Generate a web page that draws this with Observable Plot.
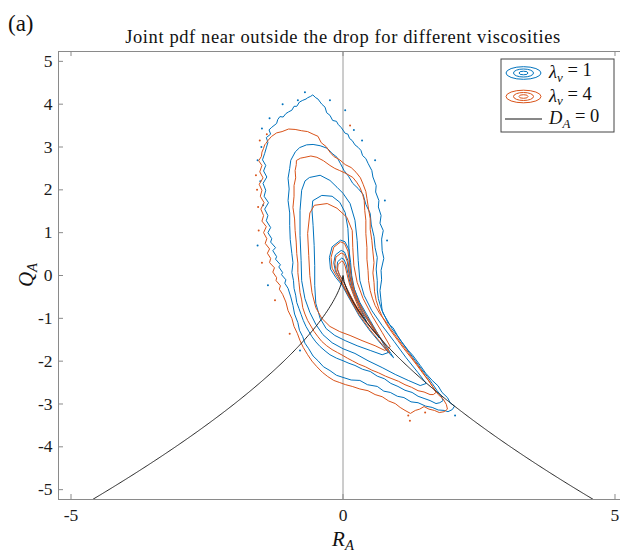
<!DOCTYPE html>
<html><head><meta charset="utf-8">
<script src="https://cdn.jsdelivr.net/npm/d3@7"></script>
<script src="https://cdn.jsdelivr.net/npm/@observablehq/plot@0.6"></script>
<style>
body{margin:0;background:#fff;overflow:hidden}
#fig{position:relative;width:620px;height:552px;overflow:hidden;background:#fff}
#fig svg{position:absolute;left:0;top:0;max-width:none!important}
</style></head><body><div id="fig"></div>
<script>
// Joint pdf of (R_A, Q_A) near the outside of the drop: contour levels per viscosity ratio.
const xTicks = [-5, 0, 5];
const yTicks = [-5, -4, -3, -2, -1, 0, 1, 2, 3, 4, 5];

// λν = 1 contours, [R_A, Q_A], outermost to innermost
const nu1Level1 = [[-0.55,4.21],[-0.50,4.15],[-0.46,4.12],[-0.42,4.05],[-0.39,4.00],[-0.33,3.93],[-0.30,3.80],[-0.24,3.74],[-0.19,3.62],[-0.12,3.60],[-0.09,3.53],[-0.03,3.45],[0.04,3.32],[0.09,3.30],[0.12,3.20],[0.17,3.15],[0.22,3.05],[0.28,2.99],[0.33,2.92],[0.36,2.80],[0.42,2.73],[0.46,2.62],[0.53,2.45],[0.55,2.30],[0.61,2.10],[0.60,1.95],[0.66,1.75],[0.65,1.60],[0.70,1.40],[0.68,1.22],[0.74,1.05],[0.71,0.85],[0.72,0.58],[0.75,0.40],[0.70,0.12],[0.71,-0.10],[0.68,-0.35],[0.70,-0.60],[0.72,-0.82],[0.78,-0.98],[0.83,-1.12],[0.92,-1.22],[1.00,-1.40],[1.08,-1.55],[1.20,-1.75],[1.28,-1.86],[1.42,-2.10],[1.52,-2.28],[1.64,-2.45],[1.75,-2.58],[1.82,-2.73],[1.92,-2.85],[1.97,-2.97],[2.05,-3.05],[2.01,-3.13],[1.93,-3.18],[1.86,-3.15],[1.75,-3.14],[1.64,-3.08],[1.52,-3.05],[1.38,-2.97],[1.25,-2.95],[1.12,-2.85],[1.00,-2.82],[0.87,-2.73],[0.75,-2.70],[0.63,-2.59],[0.45,-2.55],[0.31,-2.45],[0.15,-2.44],[0,-2.38],[-0.12,-2.33],[-0.24,-2.22],[-0.36,-2.13],[-0.46,-1.99],[-0.55,-1.88],[-0.63,-1.71],[-0.70,-1.58],[-0.74,-1.43],[-0.80,-1.28],[-0.83,-1.10],[-0.89,-0.90],[-0.92,-0.70],[-0.96,-0.50],[-1.01,-0.30],[-1.07,-0.18],[-1.05,-0.10],[-1.13,0.02],[-1.11,0.07],[-1.18,0.20],[-1.15,0.25],[-1.24,0.38],[-1.22,0.44],[-1.29,0.58],[-1.24,0.65],[-1.33,0.78],[-1.31,0.86],[-1.38,1.00],[-1.33,1.12],[-1.41,1.28],[-1.38,1.40],[-1.44,1.55],[-1.37,1.70],[-1.45,1.85],[-1.42,1.99],[-1.47,2.15],[-1.40,2.30],[-1.46,2.44],[-1.42,2.57],[-1.48,2.70],[-1.44,2.85],[-1.41,2.98],[-1.38,3.11],[-1.41,3.22],[-1.33,3.30],[-1.36,3.40],[-1.31,3.46],[-1.22,3.55],[-1.20,3.64],[-1.16,3.71],[-1.10,3.70],[-1.05,3.78],[-1.00,3.82],[-0.94,3.86],[-0.90,3.95],[-0.85,3.95],[-0.80,4.05],[-0.74,4.09],[-0.68,4.12],[-0.65,4.15],[-0.60,4.18]];
const nu1Level2 = [[-0.79,2.99],[-0.67,3.05],[-0.55,3.06],[-0.42,3.03],[-0.29,2.97],[-0.20,2.85],[-0.11,2.76],[-0.05,2.62],[0.02,2.45],[0.10,2.32],[0.18,2.15],[0.28,2.03],[0.37,1.89],[0.42,1.66],[0.50,1.45],[0.52,1.18],[0.57,0.91],[0.59,0.65],[0.63,0.42],[0.61,0.15],[0.63,-0.12],[0.63,-0.34],[0.65,-0.54],[0.69,-0.72],[0.74,-0.89],[0.82,-1.06],[0.90,-1.24],[1.01,-1.43],[1.11,-1.61],[1.22,-1.80],[1.33,-1.99],[1.44,-2.18],[1.55,-2.36],[1.64,-2.52],[1.73,-2.69],[1.80,-2.80],[1.84,-2.92],[1.78,-2.97],[1.71,-2.99],[1.60,-2.92],[1.49,-2.87],[1.38,-2.82],[1.27,-2.73],[1.14,-2.68],[1.01,-2.59],[0.88,-2.52],[0.76,-2.41],[0.63,-2.35],[0.50,-2.24],[0.36,-2.19],[0.22,-2.10],[0.11,-2.05],[0,-1.99],[-0.12,-1.93],[-0.24,-1.85],[-0.33,-1.76],[-0.42,-1.66],[-0.50,-1.55],[-0.57,-1.43],[-0.63,-1.30],[-0.68,-1.19],[-0.73,-1.05],[-0.77,-0.91],[-0.81,-0.77],[-0.85,-0.63],[-0.87,-0.46],[-0.90,-0.30],[-0.91,-0.12],[-0.94,0.07],[-0.92,0.30],[-0.94,0.51],[-0.97,0.84],[-0.98,1.17],[-0.98,1.46],[-1.01,1.75],[-0.99,2.02],[-1.01,2.27],[-0.98,2.50],[-0.96,2.69],[-0.88,2.88]];
const nu1Level3 = [[-0.61,2.29],[-0.42,2.34],[-0.24,2.22],[-0.11,2.06],[0,1.92],[0.13,1.68],[0.22,1.29],[0.26,0.82],[0.28,0.35],[0.31,-0.12],[0.39,-0.47],[0.53,-0.82],[0.72,-1.17],[0.94,-1.54],[1.16,-1.92],[1.38,-2.27],[1.53,-2.52],[1.42,-2.57],[1.20,-2.45],[0.96,-2.31],[0.72,-2.15],[0.46,-1.99],[0.22,-1.82],[0,-1.71],[-0.20,-1.57],[-0.37,-1.38],[-0.50,-1.14],[-0.61,-0.86],[-0.70,-0.54],[-0.76,-0.12],[-0.77,0.35],[-0.79,0.93],[-0.79,1.52],[-0.76,1.99],[-0.70,2.20]];
const nu1Level4 = [[-0.55,1.75],[-0.39,1.87],[-0.20,1.85],[-0.06,1.71],[0.04,1.47],[0.09,1.10],[0.11,0.63],[0.13,0.16],[0.18,-0.23],[0.31,-0.63],[0.50,-1.05],[0.68,-1.45],[0.83,-1.80],[0.72,-1.85],[0.50,-1.75],[0.26,-1.64],[0.04,-1.52],[-0.15,-1.40],[-0.31,-1.24],[-0.42,-1.00],[-0.50,-0.65],[-0.52,-0.23],[-0.52,0.23],[-0.53,0.70],[-0.55,1.17],[-0.57,1.52]];
const nu1Level5 = [[-0.05,0.82],[-0.20,0.67],[-0.25,0.42],[-0.23,0.15],[-0.13,-0.05],[-0.02,-0.22],[0.10,-0.50],[0.30,-0.95],[0.50,-1.30],[0.70,-1.60],[0.85,-1.82],[0.93,-1.92],[0.80,-1.66],[0.60,-1.29],[0.42,-0.93],[0.29,-0.62],[0.21,-0.32],[0.16,0.00],[0.14,0.30],[0.11,0.60],[0.04,0.78]];
const nu1Level6 = [[-0.04,0.58],[-0.14,0.48],[-0.17,0.30],[-0.14,0.10],[-0.06,-0.08],[0.05,-0.35],[0.20,-0.70],[0.40,-1.05],[0.58,-1.33],[0.67,-1.46],[0.56,-1.23],[0.38,-0.90],[0.25,-0.56],[0.17,-0.26],[0.12,0.04],[0.09,0.35],[0.03,0.54]];
const nu1Level7 = [[-0.03,0.40],[-0.10,0.32],[-0.11,0.18],[-0.07,0.03],[0,-0.12],[0.10,-0.38],[0.22,-0.68],[0.35,-0.95],[0.43,-1.07],[0.34,-0.84],[0.23,-0.53],[0.14,-0.23],[0.09,0.05],[0.06,0.25],[0.02,0.37]];
// isolated specks of the lowest λν = 1 level
const nu1Specks = [[-0.70,4.28],[-0.83,4.09],[-1.11,4.00],[-1.35,3.67],[-1.49,3.43],[-1.57,2.69],[-1.47,1.64],[-1.57,0.70],[-1.38,-0.23],[-0.24,4.09],[0.04,3.86],[0.35,3.15],[0.59,2.69],[0.77,1.75],[0.81,0.82],[2.06,-3.27],[-0.79,-1.75],[-1.52,2.20],[-1.50,3.00],[0.20,3.40]];

// λν = 4 contours
const nu4Level1 = [[-1.31,3.25],[-1.22,3.33],[-1.12,3.36],[-1.00,3.42],[-0.88,3.41],[-0.76,3.38],[-0.65,3.36],[-0.55,3.30],[-0.46,3.25],[-0.40,3.10],[-0.31,3.01],[-0.24,2.88],[-0.17,2.78],[-0.06,2.70],[0.04,2.59],[0.15,2.52],[0.24,2.41],[0.32,2.28],[0.37,2.13],[0.42,1.96],[0.44,1.80],[0.47,1.55],[0.50,1.33],[0.50,1.08],[0.53,0.82],[0.55,0.55],[0.57,0.30],[0.55,0.06],[0.57,-0.16],[0.58,-0.38],[0.61,-0.58],[0.66,-0.78],[0.72,-0.96],[0.80,-1.14],[0.90,-1.33],[1.01,-1.52],[1.12,-1.71],[1.24,-1.90],[1.35,-2.08],[1.46,-2.27],[1.57,-2.45],[1.66,-2.62],[1.75,-2.78],[1.84,-2.88],[1.90,-3.01],[1.92,-3.12],[1.86,-3.18],[1.77,-3.20],[1.68,-3.15],[1.58,-3.12],[1.49,-3.06],[1.41,-3.12],[1.33,-3.15],[1.24,-3.22],[1.14,-3.15],[1.05,-3.08],[0.96,-2.99],[0.84,-2.93],[0.72,-2.83],[0.59,-2.78],[0.46,-2.69],[0.31,-2.65],[0.17,-2.59],[0.05,-2.55],[-0.06,-2.50],[-0.17,-2.45],[-0.28,-2.36],[-0.38,-2.26],[-0.48,-2.13],[-0.57,-2.00],[-0.65,-1.85],[-0.73,-1.68],[-0.79,-1.52],[-0.84,-1.35],[-0.90,-1.19],[-0.94,-1.00],[-1.01,-0.82],[-1.05,-0.62],[-1.11,-0.44],[-1.17,-0.32],[-1.15,-0.24],[-1.23,-0.12],[-1.22,-0.05],[-1.29,0.08],[-1.26,0.18],[-1.35,0.30],[-1.33,0.40],[-1.39,0.52],[-1.35,0.62],[-1.43,0.75],[-1.40,0.86],[-1.46,1.00],[-1.41,1.14],[-1.49,1.27],[-1.46,1.40],[-1.51,1.55],[-1.45,1.70],[-1.52,1.85],[-1.49,1.99],[-1.54,2.13],[-1.47,2.28],[-1.53,2.42],[-1.49,2.57],[-1.55,2.68],[-1.50,2.78],[-1.49,2.88],[-1.46,2.97],[-1.44,3.05],[-1.42,3.08],[-1.38,3.15]];
const nu4Level2 = [[-0.85,2.69],[-0.78,2.74],[-0.70,2.76],[-0.59,2.79],[-0.48,2.76],[-0.36,2.68],[-0.24,2.57],[-0.15,2.50],[-0.06,2.45],[0.06,2.38],[0.18,2.29],[0.25,2.18],[0.31,2.06],[0.36,1.90],[0.39,1.75],[0.40,1.52],[0.42,1.29],[0.42,0.98],[0.44,0.65],[0.44,0.38],[0.46,0.12],[0.47,-0.12],[0.50,-0.35],[0.54,-0.53],[0.59,-0.70],[0.67,-0.88],[0.77,-1.05],[0.87,-1.24],[0.98,-1.43],[1.09,-1.62],[1.20,-1.80],[1.31,-1.99],[1.42,-2.17],[1.51,-2.34],[1.60,-2.50],[1.66,-2.62],[1.71,-2.73],[1.66,-2.78],[1.60,-2.78],[1.49,-2.72],[1.38,-2.69],[1.26,-2.61],[1.14,-2.55],[1.02,-2.47],[0.90,-2.41],[0.78,-2.35],[0.65,-2.27],[0.53,-2.21],[0.41,-2.13],[0.29,-2.07],[0.17,-1.99],[0.08,-1.93],[0,-1.87],[-0.10,-1.80],[-0.20,-1.73],[-0.30,-1.64],[-0.39,-1.54],[-0.46,-1.43],[-0.53,-1.31],[-0.59,-1.18],[-0.65,-1.05],[-0.70,-0.90],[-0.74,-0.75],[-0.76,-0.57],[-0.79,-0.40],[-0.81,-0.16],[-0.83,0.07],[-0.83,0.29],[-0.85,0.51],[-0.86,0.78],[-0.88,1.05],[-0.89,1.32],[-0.92,1.59],[-0.90,1.85],[-0.90,2.10],[-0.87,2.28],[-0.88,2.45],[-0.86,2.58]];
const nu4Level3 = [[-0.52,1.64],[-0.29,1.68],[-0.11,1.57],[0.07,1.36],[0.17,1.05],[0.18,0.65],[0.20,0.23],[0.26,-0.16],[0.37,-0.54],[0.53,-0.93],[0.72,-1.33],[0.87,-1.66],[0.77,-1.75],[0.59,-1.64],[0.35,-1.52],[0.13,-1.40],[-0.06,-1.31],[-0.24,-1.19],[-0.39,-1.00],[-0.50,-0.75],[-0.57,-0.40],[-0.61,0],[-0.63,0.47],[-0.65,0.98],[-0.61,1.45]];
const nu4Level4 = [[-0.05,0.78],[-0.17,0.66],[-0.22,0.42],[-0.20,0.17],[-0.11,-0.03],[-0.01,-0.20],[0.12,-0.52],[0.30,-0.92],[0.50,-1.27],[0.68,-1.55],[0.80,-1.74],[0.86,-1.81],[0.76,-1.60],[0.58,-1.25],[0.41,-0.90],[0.28,-0.60],[0.20,-0.32],[0.15,-0.02],[0.12,0.30],[0.09,0.57],[0.03,0.74]];
const nu4Level5 = [[-0.04,0.52],[-0.13,0.43],[-0.15,0.27],[-0.12,0.08],[-0.05,-0.08],[0.06,-0.36],[0.21,-0.70],[0.39,-1.02],[0.55,-1.28],[0.62,-1.38],[0.52,-1.17],[0.36,-0.86],[0.24,-0.53],[0.16,-0.24],[0.11,0.04],[0.08,0.32],[0.03,0.48]];
const nu4Level6 = [[-0.03,0.33],[-0.09,0.26],[-0.10,0.13],[-0.06,0.00],[0.01,-0.14],[0.10,-0.38],[0.21,-0.64],[0.31,-0.86],[0.37,-0.96],[0.29,-0.76],[0.20,-0.48],[0.12,-0.20],[0.07,0.05],[0.04,0.22],[0.01,0.31]];
// isolated specks of the lowest λν = 4 level
const nu4Specks = [[-1.53,3.15],[-1.60,2.34],[-1.55,1.05],[-1.49,0.30],[-1.25,-0.58],[1.20,-3.27],[1.23,-3.39],[1.51,-3.20],[-0.98,-1.36],[0.13,3.50],[-1.56,1.60],[-1.40,3.30],[-1.58,2.00]];

const nu1Levels = [nu1Level1, nu1Level2, nu1Level3, nu1Level4, nu1Level5, nu1Level6, nu1Level7];
const nu4Levels = [nu4Level1, nu4Level2, nu4Level3, nu4Level4, nu4Level5, nu4Level6];

const blue = "#0072BD", orange = "#D95319";

function rows(levels, tag) {
  return levels.flatMap((pts, i) => pts.map(([R, Q]) => ({R, Q, id: tag + i})));
}
const rowsNu1 = rows(nu1Levels, "a");
const rowsNu4 = rows(nu4Levels, "b");
const specks1 = nu1Specks.map(([R, Q]) => ({R, Q}));
const specks4 = nu4Specks.map(([R, Q]) => ({R, Q}));

// Vieillefosse line D_A = Q^3 + (27/4) R^2 = 0  ->  Q = -((27/4) R^2)^(1/3)
const vieillefosse = d3.range(-480, 481, 2).map(k => {
  const R = k / 100;
  return {R, Q: -Math.cbrt(6.75 * R * R)};
});

const W = 628, H = 552, mL = 58, mR = 1, mT = 51, mB = 53;
const frameW = W - mL - mR, frameH = H - mT - mB;
const axisGray = "#8a8a8a";
const serif = "'Liberation Serif', serif";

const chart = Plot.plot({
  width: W, height: H,
  marginLeft: mL, marginRight: mR, marginTop: mT, marginBottom: mB,
  x: {domain: [-5.23, 5.23]},
  y: {domain: [-5.23, 5.23]},
  style: {fontFamily: serif, fontSize: "17.5px", color: "#1a1a1a", background: "white", maxWidth: "none"},
  marks: [
    Plot.ruleX([0], {stroke: "#9a9a9a", strokeWidth: 1}),
    Plot.line(rowsNu1, {x: "R", y: "Q", z: "id", stroke: blue, strokeWidth: 1, curve: "linear-closed"}),
    Plot.dot(specks1, {x: "R", y: "Q", r: 1, fill: blue, stroke: null}),
    Plot.line(rowsNu4, {x: "R", y: "Q", z: "id", stroke: orange, strokeWidth: 1, curve: "linear-closed"}),
    Plot.dot(specks4, {x: "R", y: "Q", r: 1, fill: orange, stroke: null}),
    Plot.line(vieillefosse, {x: "R", y: "Q", stroke: "#111", strokeWidth: 0.9, clip: true}),
    Plot.frame({stroke: axisGray, strokeWidth: 1}),
    Plot.ruleX(xTicks, {insetTop: frameH - 5, stroke: axisGray}),
    Plot.ruleX(xTicks, {insetBottom: frameH - 5, stroke: axisGray}),
    Plot.ruleY(yTicks, {insetRight: frameW - 5, stroke: axisGray}),
    Plot.axisX({ticks: xTicks, tickSize: 0, tickPadding: 9, tickFormat: d => String(d), label: null}),
    Plot.axisY({ticks: yTicks, tickSize: 0, tickPadding: 6, tickFormat: d => String(d), label: null})
  ]
});
chart.style.maxWidth = "none";
document.getElementById("fig").appendChild(chart);

const svg = d3.select(chart);

// Panel letter and title
svg.append("text").attr("x", 8).attr("y", 31).attr("text-anchor", "start").attr("font-family", serif).attr("font-size", 23).attr("fill", "#111").text("(a)");
svg.append("text").attr("x", 343).attr("y", 43).attr("text-anchor", "middle").attr("font-family", serif).attr("font-size", 18.5).attr("letter-spacing", "0.6px").attr("fill", "#111")
  .text("Joint pdf near outside the drop for different viscosities");

// Axis labels with subscripts
function subLabel(g, main, sub) {
  g.append("tspan").attr("font-style", "italic").text(main);
  g.append("tspan").attr("font-style", "italic").attr("font-size", "0.7em").attr("dy", "0.25em").text(sub);
}
const xl = svg.append("text").attr("x", 343).attr("y", 546).attr("text-anchor", "middle").attr("font-family", serif).attr("font-size", 21).attr("fill", "#111");
subLabel(xl, "R", "A");
const yl = svg.append("text").attr("transform", "translate(33,275) rotate(-90)").attr("text-anchor", "middle").attr("font-family", serif).attr("font-size", 21).attr("fill", "#111");
subLabel(yl, "Q", "A");

// Legend
const lg = svg.append("g").attr("font-family", serif).attr("font-size", 18.5).attr("fill", "#111").attr("text-anchor", "start");
lg.append("rect").attr("x", 501).attr("y", 59).attr("width", 113).attr("height", 73).attr("fill", "white").attr("stroke", "#444").attr("stroke-width", 1);
const entries = [
  {color: blue, cy: 73, label: "1"},
  {color: orange, cy: 96.5, label: "4"}
];
for (const e of entries) {
  for (const [rx, ry] of [[17.5, 6.3], [10, 4], [4.5, 1.8]]) {
    lg.append("ellipse").attr("cx", 523.5).attr("cy", e.cy).attr("rx", rx).attr("ry", ry).attr("fill", "none").attr("stroke", e.color).attr("stroke-width", 1);
  }
  const t = lg.append("text").attr("x", 549).attr("y", e.cy + 5);
  t.append("tspan").attr("font-style", "italic").text("λ");
  t.append("tspan").attr("font-style", "italic").attr("font-size", "0.7em").attr("dy", "0.3em").text("ν");
  t.append("tspan").attr("dy", "-0.3em").text(" = " + e.label);
}
lg.append("line").attr("x1", 505).attr("x2", 542).attr("y1", 119).attr("y2", 119).attr("stroke", "#111").attr("stroke-width", 1);
const td = lg.append("text").attr("x", 549).attr("y", 124);
td.append("tspan").attr("font-style", "italic").text("D");
td.append("tspan").attr("font-style", "italic").attr("font-size", "0.7em").attr("dy", "0.3em").text("A");
td.append("tspan").attr("dy", "-0.3em").text(" = 0");
</script></body></html>
